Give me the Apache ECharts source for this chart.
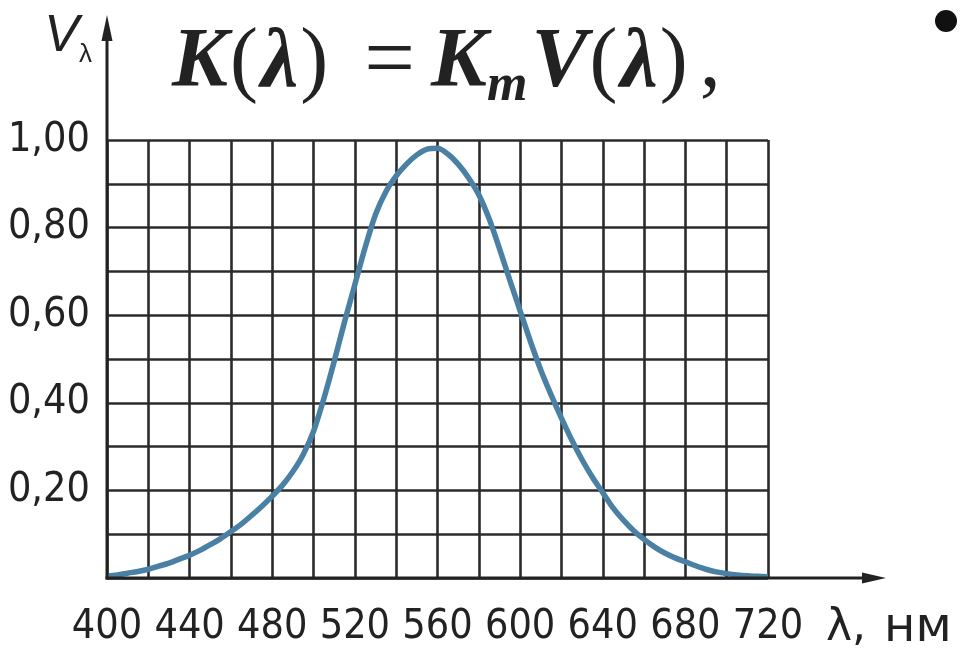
<!DOCTYPE html>
<html>
<head>
<meta charset="utf-8">
<script src="https://cdn.jsdelivr.net/npm/echarts@6/dist/echarts.min.js"></script>
<style>
  html, body { margin: 0; padding: 0; background: #ffffff; }
  #chart { width: 974px; height: 653px; }
</style>
</head>
<body>
<div id="chart"></div>
<script>
// Relative spectral luminous efficiency V(λ) of the eye, sampled every 5 nm
const wavelengths = [400, 405, 410, 415, 420, 425, 430, 435, 440, 445, 450, 455, 460, 465, 470, 475, 480, 485, 490, 495,
                     500, 505, 510, 515, 520, 525, 530, 535, 540, 545, 550, 555, 560, 565, 570, 575, 580, 585, 590, 595,
                     600, 605, 610, 615, 620, 625, 630, 635, 640, 645, 650, 655, 660, 665, 670, 675, 680, 685, 690, 695,
                     700, 705, 710, 715, 720];
const efficiency  = [0.005, 0.007, 0.011, 0.015, 0.02, 0.027, 0.034, 0.043, 0.052, 0.063, 0.076, 0.09, 0.106, 0.123, 0.143, 0.164, 0.187, 0.212, 0.243, 0.282,
                     0.335, 0.41, 0.495, 0.585, 0.67, 0.755, 0.83, 0.882, 0.918, 0.945, 0.966, 0.979, 0.981, 0.968, 0.945, 0.914, 0.875, 0.82, 0.752, 0.68,
                     0.61, 0.54, 0.475, 0.418, 0.365, 0.315, 0.27, 0.23, 0.195, 0.16, 0.132, 0.108, 0.088, 0.071, 0.057, 0.046, 0.037, 0.028, 0.02, 0.014,
                     0.01, 0.007, 0.005, 0.004, 0.003];

// Axis ranges and tick label steps
const xRange = [400, 720];
const xGridStep = 20;
const xLabelStep = 40;
const yRange = [0, 1];
const yGridStep = 0.1;
const yLabelStep = 0.2;

const LABEL_FONT = "'Liberation Sans Narrow', 'Arial Narrow', 'DejaVu Sans Condensed', sans-serif";
const MATH_FONT = "'Liberation Serif', 'DejaVu Serif', serif";
const INK = '#222222';
const GRID_INK = '#2b2b2b';

const chart = echarts.init(document.getElementById('chart'), null, { renderer: 'canvas' });

const curve = wavelengths.map((w, i) => [w, efficiency[i]]);

chart.setOption({
  backgroundColor: '#ffffff',
  animation: false,
  grid: { left: 107, right: 206, top: 140, bottom: 75, containLabel: false },
  xAxis: {
    type: 'value',
    min: xRange[0], max: xRange[1], interval: xGridStep,
    axisLine: { show: false },
    axisTick: { show: false },
    splitLine: { show: true, lineStyle: { color: GRID_INK, width: 2.6 } },
    axisLabel: {
      formatter: v => (v % xLabelStep === 0 ? String(v) : ''),
      fontFamily: LABEL_FONT, fontSize: 41, color: INK, margin: 29
    },
    name: '{a|λ,}{b|нм}',
    nameLocation: 'end',
    nameGap: 58,
    nameTextStyle: {
      align: 'left', verticalAlign: 'top', padding: [27, 0, 0, 0],
      rich: {
        a: { fontFamily: "'DejaVu Sans', sans-serif", fontSize: 44, color: INK },
        b: { fontFamily: "'DejaVu Sans', sans-serif", fontSize: 48, color: INK, padding: [0, 0, 0, 18] }
      }
    }
  },
  yAxis: {
    type: 'value',
    min: yRange[0], max: yRange[1], interval: yGridStep,
    axisLine: { show: false },
    axisTick: { show: false },
    splitLine: { show: true, lineStyle: { color: GRID_INK, width: 2.6 } },
    axisLabel: {
      formatter: v => {
        const k = Math.round(v * 100);
        return (k > 0 && k % Math.round(yLabelStep * 100) === 0) ? v.toFixed(2).replace('.', ',') : '';
      },
      fontFamily: LABEL_FONT, fontSize: 41, color: INK, margin: 17
    },
    name: '{v|V}{s|λ}',
    nameLocation: 'end',
    nameGap: 72,
    nameTextStyle: {
      align: 'right', padding: [0, 15, 0, 0],
      rich: {
        v: { fontFamily: "'Liberation Sans', sans-serif", fontStyle: 'italic', fontSize: 52, color: INK },
        s: { fontFamily: "'Liberation Sans', sans-serif", fontSize: 26, color: INK, padding: [36, 0, 0, 0] }
      }
    }
  },
  series: [{
    type: 'line',
    data: curve,
    smooth: 0.3,
    showSymbol: false,
    clip: false,
    z: 5,
    lineStyle: { color: '#4a80a4', width: 5.5 }
  }]
});

// Axis lines with arrowheads, extended past the grid; formula heading and bullet
function drawDecor() {
  const o = chart.convertToPixel({ gridIndex: 0 }, [xRange[0], yRange[0]]);
  const ox = o[0], oy = o[1];
  const it = { fontFamily: MATH_FONT, fontStyle: 'italic', fontWeight: 'bold', fontSize: 84, fill: INK };
  const up = { fontFamily: MATH_FONT, fontSize: 84, fill: INK };
  chart.setOption({
    graphic: [
      { type: 'line', z: 10, shape: { x1: ox, y1: oy + 1.5, x2: ox, y2: 38 }, style: { stroke: INK, lineWidth: 3 } },
      { type: 'polygon', z: 10, shape: { points: [[ox, 15], [ox - 5.5, 41], [ox + 5.5, 41]] }, style: { fill: INK } },
      { type: 'line', z: 10, shape: { x1: ox - 1.5, y1: oy, x2: 864, y2: oy }, style: { stroke: INK, lineWidth: 3 } },
      { type: 'polygon', z: 10, shape: { points: [[886, oy], [862, oy - 5.5], [862, oy + 5.5]] }, style: { fill: INK } },
      {
        type: 'text', z: 10, left: 172, top: 19,
        style: {
          text: '{k|K}{p|(}{l|λ}{q|)}{e|=}{k2|K}{s|m}{v|V}{p|(}{l|λ}{q|)}{c|,}',
          rich: {
            k:  Object.assign({}, it, { padding: [0, 2, 0, 0] }),
            k2: Object.assign({}, it, { padding: [0, 0, 0, 0] }),
            v:  Object.assign({}, it, { padding: [0, 2, 0, 0] }),
            l:  Object.assign({}, it, { padding: [0, 2, 0, 2] }),
            p:  Object.assign({}, up, { padding: [0, 1, 0, 0] }),
            q:  Object.assign({}, up, { padding: [0, 0, 0, 0] }),
            e:  Object.assign({}, up, { fontSize: 90, padding: [0, 16, 0, 36] }),
            c:  Object.assign({}, up, { padding: [0, 0, 0, 12] }),
            s:  { fontFamily: MATH_FONT, fontStyle: 'italic', fontWeight: 'bold', fontSize: 52, fill: INK, padding: [46, 4, 0, 0] }
          }
        }
      },
      { type: 'circle', z: 10, shape: { cx: 946, cy: 21, r: 11 }, style: { fill: '#111111' } }
    ]
  });
}
drawDecor();
</script>
</body>
</html>
